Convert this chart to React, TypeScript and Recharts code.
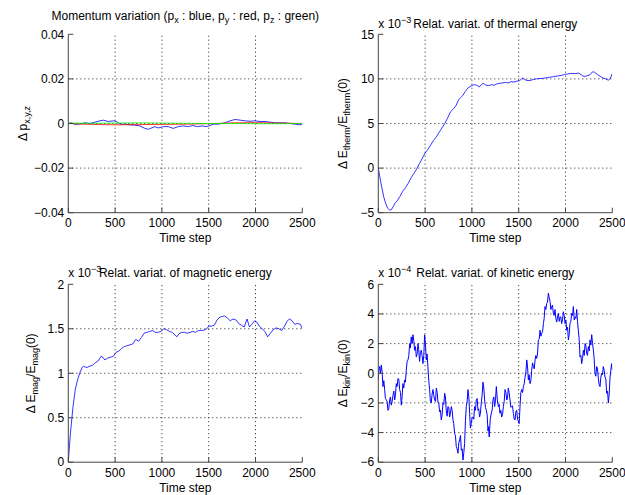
import React from 'react';
import { LineChart, Line, XAxis, YAxis, ReferenceLine } from 'recharts';

const FONT = '"Liberation Sans", Arial, Helvetica, sans-serif';
const BOX = '#444';
const GRID = '#222';

const timeTicks = [0, 500, 1000, 1500, 2000, 2500];

// momentum variation
const pxT = [0, 36, 71, 125, 178, 231, 285, 338, 374, 427, 481, 516, 552, 605, 659, 712, 765, 819, 854, 890, 926, 961, 1015, 1068, 1121, 1175, 1228, 1282, 1330, 1380, 1430, 1470, 1500, 1550, 1603, 1675, 1728, 1781, 1835, 1888, 1942, 1995, 2048, 2102, 2155, 2209, 2262, 2315, 2369, 2422, 2476, 2500];
const pxV = [0, 0.0003, -0.0004, -0.0002, 0.0003, 0, 0.0006, 0.0012, 0.0015, 0.0009, 0.0012, 0.0009, -0.0003, -0.0003, -0.0006, -0.0007, -0.0011, -0.0022, -0.0026, -0.002, -0.0014, -0.002, -0.0014, -0.0014, -0.0022, -0.0014, -0.0011, -0.0014, -0.0009, -0.0014, -0.0011, -0.0014, -0.0011, -0.0003, -0.0003, 0.0003, 0.0012, 0.0018, 0.0015, 0.0012, 0.001, 0.0012, 0.0009, 0.0009, 0.0006, 0.0003, 0.0003, 0.0003, 0, -0.0003, -0.0006, -0.0003];
const pyT = [0, 250, 500, 750, 1000, 1250, 1500, 1750, 2000, 2250, 2500];
const pyV = [0, -0.0004, -0.0006, -0.0005, -0.0004, -0.0003, -0.0001, 0.0003, 0.0004, 0.0002, 0];
const pzT = [0, 250, 500, 750, 1000, 1250, 1500, 1750, 2000, 2250, 2500];
const pzV = [0.0002, 0.0001, 0.0002, 0.0003, 0.0002, 0.0001, 0, 0, -0.0001, -0.0001, 0];

// thermal energy (x 1e-3)
const thT = [0, 20, 40, 60, 80, 100, 120, 140, 160, 180, 200, 230, 260, 290, 320, 350, 380, 410, 440, 470, 500, 530, 560, 590, 620, 650, 680, 710, 740, 770, 800, 830, 860, 880, 900, 930, 960, 990, 1020, 1050, 1080, 1100, 1120, 1150, 1180, 1210, 1240, 1270, 1300, 1330, 1360, 1390, 1420, 1450, 1480, 1510, 1540, 1570, 1600, 1630, 1660, 1690, 1720, 1750, 1780, 1810, 1840, 1870, 1900, 1930, 1960, 1990, 2020, 2050, 2080, 2110, 2140, 2170, 2200, 2230, 2260, 2290, 2310, 2340, 2370, 2400, 2430, 2460, 2480, 2500];
const thV = [0, -1.2, -2.3, -3.3, -4.0, -4.5, -4.7, -4.65, -4.3, -3.9, -3.7, -3.2, -2.6, -2.2, -1.7, -1.1, -0.6, -0.1, 0.5, 1.1, 1.7, 2.1, 2.6, 3.1, 3.5, 4.0, 4.5, 5.0, 5.6, 6.3, 6.6, 7.0, 7.7, 7.9, 8.1, 8.6, 9.0, 9.2, 9.35, 9.3, 9.1, 9.35, 9.5, 9.3, 9.25, 9.35, 9.3, 9.45, 9.5, 9.55, 9.6, 9.55, 9.7, 9.65, 9.75, 9.8, 10.1, 9.9, 9.8, 9.85, 9.95, 10.0, 10.05, 10.05, 10.1, 10.15, 10.2, 10.25, 10.3, 10.35, 10.4, 10.5, 10.55, 10.6, 10.6, 10.6, 10.65, 10.45, 10.25, 10.35, 10.45, 10.8, 10.75, 10.5, 10.3, 10.1, 10.0, 9.85, 10.1, 10.6];

// magnetic energy (x 1e-3)
const mgT = [0, 10, 25, 50, 75, 100, 125, 150, 160, 180, 200, 230, 260, 290, 320, 350, 370, 390, 420, 450, 480, 510, 540, 570, 600, 630, 660, 690, 720, 750, 780, 810, 840, 870, 900, 930, 960, 990, 1020, 1050, 1080, 1110, 1140, 1160, 1180, 1210, 1240, 1270, 1300, 1330, 1360, 1390, 1420, 1450, 1480, 1500, 1530, 1560, 1590, 1620, 1650, 1670, 1700, 1730, 1760, 1790, 1820, 1850, 1880, 1910, 1935, 1960, 1990, 2010, 2040, 2070, 2100, 2130, 2160, 2190, 2220, 2250, 2280, 2310, 2340, 2365, 2390, 2420, 2450, 2480, 2500];
const mgV = [0, 0.15, 0.35, 0.62, 0.82, 0.93, 1.01, 1.07, 1.08, 1.07, 1.065, 1.08, 1.09, 1.12, 1.14, 1.19, 1.18, 1.15, 1.17, 1.18, 1.19, 1.235, 1.25, 1.28, 1.3, 1.31, 1.32, 1.33, 1.38, 1.36, 1.4, 1.45, 1.46, 1.47, 1.48, 1.46, 1.46, 1.47, 1.5, 1.49, 1.47, 1.46, 1.43, 1.41, 1.44, 1.46, 1.46, 1.45, 1.46, 1.47, 1.46, 1.48, 1.48, 1.485, 1.5, 1.53, 1.53, 1.54, 1.6, 1.63, 1.64, 1.645, 1.62, 1.59, 1.61, 1.6, 1.56, 1.54, 1.52, 1.61, 1.52, 1.55, 1.59, 1.58, 1.53, 1.5, 1.47, 1.41, 1.45, 1.49, 1.51, 1.5, 1.48, 1.53, 1.59, 1.61, 1.59, 1.55, 1.56, 1.55, 1.5];

// kinetic energy (x 1e-4): main readings plus the fine jitter between them
const knT = [0, 14, 32, 50, 68, 85, 103, 121, 139, 157, 175, 192, 210, 228, 246, 263, 281, 299, 317, 335, 352, 370, 388, 406, 424, 441, 459, 477, 495, 513, 530, 548, 566, 584, 602, 620, 638, 655, 673, 691, 709, 726, 744, 762, 780, 798, 815, 833, 851, 869, 887, 905, 922, 940, 958, 976, 993, 1011, 1029, 1047, 1065, 1082, 1100, 1118, 1136, 1154, 1172, 1185, 1207, 1225, 1243, 1261, 1283, 1300, 1318, 1336, 1354, 1372, 1389, 1407, 1425, 1443, 1461, 1479, 1497, 1514, 1532, 1550, 1568, 1586, 1603, 1621, 1639, 1657, 1675, 1692, 1710, 1728, 1746, 1764, 1781, 1799, 1817, 1835, 1853, 1870, 1888, 1906, 1924, 1942, 1959, 1977, 1995, 2013, 2031, 2048, 2066, 2084, 2102, 2120, 2137, 2155, 2173, 2191, 2209, 2226, 2244, 2262, 2280, 2298, 2315, 2333, 2351, 2369, 2386, 2404, 2422, 2440, 2458, 2476, 2493, 2500];
const knV = [-0.45, 0.45, 0.55, -0.9, -1.1, -1.8, -2.5, -1.8, -2.15, -1.5, -1.8, -0.7, -0.35, -1.1, -2.15, -0.7, -0.45, 0.2, 0.9, 2.0, 2.45, 2.6, 1.55, 1.1, 2.0, 0.8, 1.55, 0.65, 2.6, 0.9, 0.45, -1.1, -2.0, -1.1, -1.8, -1.0, -2.0, -2.6, -3.15, -2.0, -1.35, -2.5, -2.25, -2.95, -2.25, -3.15, -4.05, -4.95, -5.4, -4.5, -5.2, -5.85, -4.75, -2.25, -1.1, -2.7, -3.4, -2.95, -2.25, -1.8, -2.5, -2.95, -2.0, -0.6, -1.8, -2.5, -3.9, -4.3, -2.7, -1.8, -2.25, -0.9, -2.25, -2.7, -2.95, -2.25, -1.1, -1.8, -1.0, -1.8, -2.25, -2.7, -3.15, -2.5, -3.25, -2.25, -1.1, -0.9, -0.25, 0.9, -0.45, -0.7, 0.2, 0.45, 0.9, 1.0, 2.25, 2.9, 2.7, 3.35, 4.5, 4.7, 5.4, 4.85, 4.5, 4.05, 4.3, 3.45, 4.05, 3.8, 3.35, 4.15, 3.35, 2.9, 2.25, 3.35, 4.05, 4.5, 3.8, 4.3, 2.9, 1.1, 0.65, 1.55, 2.0, 1.35, 1.8, 2.25, 2.6, 1.55, 0, 0.45, -0.35, -0.9, 0, 0.45, -0.25, -1.35, -2.0, -0.25, 0.65, 0.2];
const knMidT = [7, 23, 41, 59, 76, 94, 112, 130, 148, 166, 183, 201, 219, 237, 254, 272, 290, 308, 326, 343, 361, 379, 397, 415, 432, 450, 468, 486, 504, 521, 539, 557, 575, 593, 611, 629, 646, 664, 682, 700, 717, 735, 753, 771, 789, 806, 824, 842, 860, 878, 896, 913, 931, 949, 967, 984, 1002, 1020, 1038, 1056, 1073, 1091, 1109, 1127, 1145, 1163, 1178, 1196, 1216, 1234, 1252, 1272, 1291, 1309, 1327, 1345, 1363, 1380, 1398, 1416, 1434, 1452, 1470, 1488, 1505, 1523, 1541, 1559, 1577, 1594, 1612, 1630, 1648, 1666, 1683, 1701, 1719, 1737, 1755, 1772, 1790, 1808, 1826, 1844, 1861, 1879, 1897, 1915, 1933, 1950, 1968, 1986, 2004, 2022, 2039, 2057, 2075, 2093, 2111, 2128, 2146, 2164, 2182, 2200, 2217, 2235, 2253, 2271, 2289, 2306, 2324, 2342, 2360, 2377, 2395, 2413, 2431, 2449, 2467, 2484];
const knMidV = [0.3, 0.0, 0.1, -0.5, -1.7, -1.9, -2.4, -1.6, -1.9, -1.2, -1.5, -0.9, -0.4, -1.3, -1.6, -1.0, -0.6, 0.8, 1.2, 1.7, 2.0, 2.2, 1.8, 1.3, 1.6, 1.4, 1.2, 1.2, 1.9, 1.3, -0.5, -1.9, -1.4, -1.5, -1.9, -1.3, -2.0, -2.5, -2.8, -2.1, -1.6, -2.9, -2.3, -2.7, -2.5, -3.4, -4.2, -5.1, -4.7, -4.2, -5.1, -5.4, -3.2, -1.9, -1.6, -3.7, -3.0, -3.1, -2.5, -1.7, -2.4, -2.7, -1.5, -1.0, -2.3, -2.8, -3.6, -3.1, -2.5, -1.6, -1.8, -1.8, -2.1, -2.5, -2.8, -1.9, -1.3, -1.7, -1.3, -2.3, -2.2, -3.1, -2.6, -3.1, -3.4, -1.3, -1.3, -0.7, 0.1, 0.5, -0.1, -0.5, 0.7, 0.3, 1.2, 1.3, 2.3, 2.5, 2.8, 3.7, 4.3, 4.8, 5.1, 4.3, 4.6, 3.9, 3.7, 3.8, 3.5, 3.8, 3.6, 3.9, 3.6, 3.1, 2.6, 3.5, 3.9, 3.6, 3.7, 3.5, 2.3, 1.2, 1.0, 1.2, 1.9, 1.2, 1.5, 1.9, 2.0, 1.0, -0.2, 0.3, -0.8, -0.3, -0.1, 0.2, -0.4, -1.2, -1.4, 0.2];

const toPoints = (t: number[], v: number[]) => t.map((x, i) => ({ t: x, v: v[i] }));
const merged = (a: { t: number; v: number }[], b: { t: number; v: number }[]) =>
  [...a, ...b].sort((p, q) => p.t - q.t);
const fmt = (v: number) => String(v).replace('-', '\u2212');

type Series = { data: { t: number; v: number }[]; color: string; width?: number };
type Plot = { left: number; top: number; right: number; bottom: number };

const tickStyle = { fontSize: 12, fill: '#000', fontFamily: FONT };

function Panel(props: {
  x: number; y: number; w: number; h: number; plot: Plot;
  yDomain: [number, number]; yTicks: number[]; series: Series[];
  children?: React.ReactNode;
}) {
  const { x, y, w, h, plot, yDomain, yTicks, series, children } = props;
  // dotted grid at inner ticks only, the box covers the edges
  const gx = timeTicks.slice(1, -1);
  const gy = yTicks.slice(1, -1);
  return (
    <div style={{ position: 'absolute', left: x, top: y, width: w, height: h }}>
      <LineChart width={w} height={h} margin={{ top: plot.top, right: w - plot.right, bottom: 0, left: 0 }}>
        <XAxis dataKey="t" type="number" domain={[0, 2500]} ticks={timeTicks} interval={0}
          height={h - plot.bottom} tickSize={-5} tickMargin={11} tick={tickStyle}
          axisLine={{ stroke: BOX }} tickLine={{ stroke: BOX }} allowDataOverflow />
        <XAxis xAxisId="top" orientation="top" dataKey="t" type="number" domain={[0, 2500]} ticks={timeTicks}
          interval={0} height={0} tickSize={-5} tick={false} axisLine={{ stroke: BOX }} tickLine={{ stroke: BOX }} />
        <YAxis type="number" domain={yDomain} ticks={yTicks} interval={0} width={plot.left}
          tickSize={-5} tickMargin={9} tick={tickStyle} tickFormatter={fmt}
          axisLine={{ stroke: BOX }} tickLine={{ stroke: BOX }} allowDataOverflow />
        <YAxis yAxisId="right" orientation="right" type="number" domain={yDomain} ticks={yTicks} interval={0}
          width={0} tickSize={-5} tick={false} axisLine={{ stroke: BOX }} tickLine={{ stroke: BOX }} />
        {gx.map((t) => (
          <ReferenceLine key={`gx${t}`} x={t} stroke={GRID} strokeDasharray="1 3" ifOverflow="visible" />
        ))}
        {gy.map((v) => (
          <ReferenceLine key={`gy${v}`} y={v} stroke={GRID} strokeDasharray="1 3" ifOverflow="visible" />
        ))}
        {series.map((s, i) => (
          <Line key={i} data={s.data} dataKey="v" type="linear" stroke={s.color} strokeWidth={s.width ?? 0.8}
            dot={false} isAnimationActive={false} />
        ))}
      </LineChart>
      <svg width={w} height={h} style={{ position: 'absolute', left: 0, top: 0, pointerEvents: 'none', overflow: 'visible' }}
        fontFamily={FONT} fontSize={12} fill="#000">
        <text x={(plot.left + plot.right) / 2} y={242} textAnchor="middle">Time step</text>
        {children}
      </svg>
    </div>
  );
}

function YTitle({ x, y, main, sub, tail }: { x: number; y: number; main: string; sub: string; tail?: [string, string, string] }) {
  return (
    <text x={x} y={y} textAnchor="middle" transform={`rotate(-90, ${x}, ${y})`}>
      <tspan>{main}</tspan>
      <tspan dy={3} fontSize={9}>{sub}</tspan>
      {tail ? (
        <>
          <tspan dy={-3}>{tail[0]}</tspan>
          <tspan dy={3} fontSize={9}>{tail[1]}</tspan>
          <tspan dy={-3}>{tail[2]}</tspan>
        </>
      ) : null}
    </text>
  );
}

function Exponent({ x, y, p }: { x: number; y: number; p: string }) {
  return (
    <text x={x} y={y}>
      <tspan>x 10</tspan>
      <tspan dy={-5} fontSize={9}>{p}</tspan>
    </text>
  );
}

const topPlot: Plot = { left: 68.3, top: 34.3, right: 302.3, bottom: 212.7 };
const botPlot: Plot = { left: 68.3, top: 34.3, right: 302.3, bottom: 212.2 };
const cx = (topPlot.left + topPlot.right) / 2;

export default function App() {
  return (
    <div style={{ position: 'absolute', left: 0, top: 0, width: 625, height: 495, background: '#fff', fontFamily: FONT, overflow: 'hidden' }}>
      <Panel x={0} y={0} w={330} h={250} plot={topPlot} yDomain={[-0.04, 0.04]} yTicks={[-0.04, -0.02, 0, 0.02, 0.04]}
        series={[
          { data: toPoints(pxT, pxV), color: '#0000ff' },
          { data: toPoints(pyT, pyV), color: '#ff0000' },
          { data: toPoints(pzT, pzV), color: '#00ff00' },
        ]}>
        <text x={cx} y={20} textAnchor="middle">
          <tspan>Momentum variation (p</tspan>
          <tspan dy={3} fontSize={9}>x</tspan>
          <tspan dy={-3}> : blue, p</tspan>
          <tspan dy={3} fontSize={9}>y</tspan>
          <tspan dy={-3}> : red, p</tspan>
          <tspan dy={3} fontSize={9}>z</tspan>
          <tspan dy={-3}> : green)</tspan>
        </text>
        <YTitle x={27} y={123.5} main={'\u0394 p'} sub="x,y,z" />
      </Panel>

      <Panel x={310} y={0} w={315} h={250} plot={topPlot} yDomain={[-5, 15]} yTicks={[-5, 0, 5, 10, 15]}
        series={[{ data: toPoints(thT, thV), color: '#0000ff' }]}>
        <Exponent x={68.3} y={28} p={'\u22123'} />
        <text x={cx} y={28} textAnchor="middle">Relat. variat. of thermal energy</text>
        <YTitle x={37} y={123.5} main={'\u0394 E'} sub="therm" tail={['/E', 'therm', '(0)']} />
      </Panel>

      <Panel x={0} y={250} w={330} h={245} plot={botPlot} yDomain={[0, 2]} yTicks={[0, 0.5, 1, 1.5, 2]}
        series={[{ data: toPoints(mgT, mgV), color: '#0000ff' }]}>
        <Exponent x={68.3} y={27} p={'\u22123'} />
        <text x={cx} y={27} textAnchor="middle">Relat. variat. of magnetic energy</text>
        <YTitle x={35} y={123.3} main={'\u0394 E'} sub="mag" tail={['/E', 'mag', '(0)']} />
      </Panel>

      <Panel x={310} y={250} w={315} h={245} plot={botPlot} yDomain={[-6, 6]} yTicks={[-6, -4, -2, 0, 2, 4, 6]}
        series={[{ data: merged(toPoints(knT, knV), toPoints(knMidT, knMidV)), color: '#0000ff', width: 1 }]}>
        <Exponent x={68.3} y={27} p={'\u22124'} />
        <text x={cx} y={27} textAnchor="middle">Relat. variat. of kinetic energy</text>
        <YTitle x={37} y={123.3} main={'\u0394 E'} sub="kin" tail={['/E', 'kin', '(0)']} />
      </Panel>
    </div>
  );
}
